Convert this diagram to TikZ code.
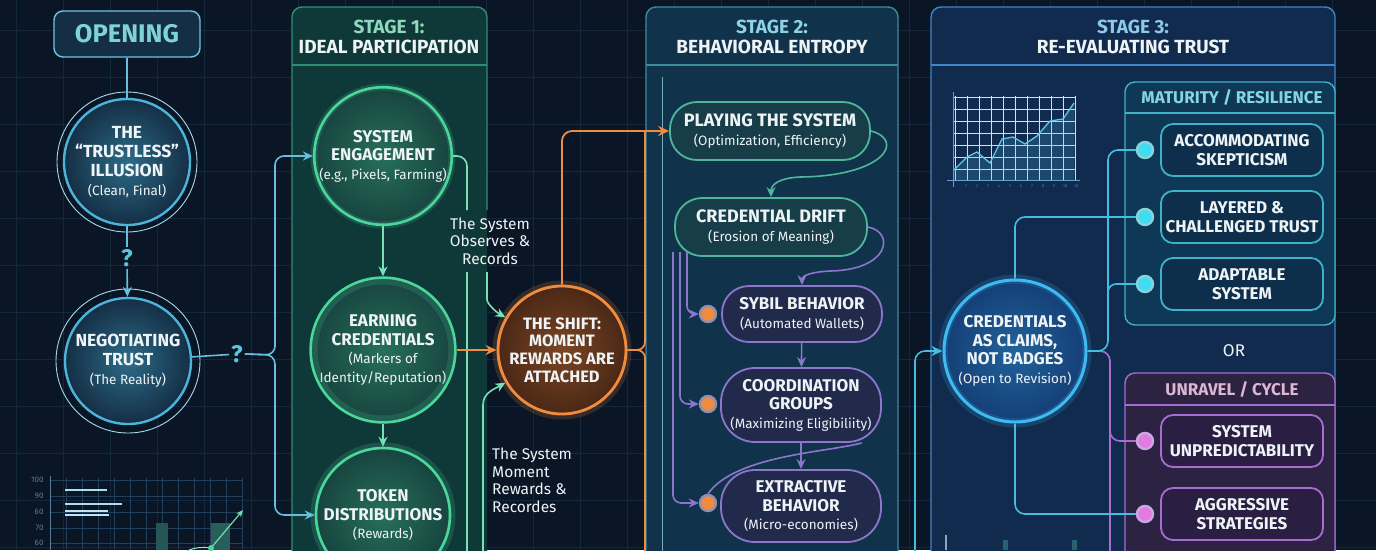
\documentclass[tikz,border=0pt]{standalone}
\usepackage{fontspec}
\setmainfont{Fira Sans}
\usetikzlibrary{arrows.meta}

\definecolor{bgnavy}{HTML}{0A1526}
\definecolor{gridln}{HTML}{14283B}
\definecolor{softwhite}{HTML}{EEF3F6}
\definecolor{tealtxt}{HTML}{7ED3D6}
\definecolor{qcol}{HTML}{5CC3DC}
\definecolor{openblue}{HTML}{4BB4D8}
\definecolor{openfill}{HTML}{142F45}
\definecolor{oneborder}{HTML}{2F8F70}
\definecolor{onefill}{HTML}{0F3938}
\definecolor{onehead}{HTML}{8FD8BC}
\definecolor{greenring}{HTML}{4CD69C}
\definecolor{greenfill}{HTML}{17443F}
\definecolor{shiftor}{HTML}{F08C3E}
\definecolor{shiftfill}{HTML}{4A2816}
\definecolor{twoborder}{HTML}{3A8C9E}
\definecolor{twofill}{HTML}{10324A}
\definecolor{twohead}{HTML}{8DD3E3}
\definecolor{pillteal}{HTML}{4DB79C}
\definecolor{pilltealfill}{HTML}{163D48}
\definecolor{lilac}{HTML}{8C76CC}
\definecolor{lilacfill}{HTML}{222A4C}
\definecolor{ringgrey}{HTML}{8E8FB2}
\definecolor{threeborder}{HTML}{3E86C6}
\definecolor{threefill}{HTML}{112B4F}
\definecolor{threehead}{HTML}{8EC9EA}
\definecolor{cyanln}{HTML}{45BDE0}
\definecolor{matborder}{HTML}{3FB2C8}
\definecolor{matfill}{HTML}{0F3756}
\definecolor{matpill}{HTML}{0E2F4B}
\definecolor{mathead}{HTML}{86D6E2}
\definecolor{dotcyan}{HTML}{40DCEF}
\definecolor{purpborder}{HTML}{A86CD2}
\definecolor{purpfill}{HTML}{2C2343}
\definecolor{purppill}{HTML}{2A1F42}
\definecolor{purphead}{HTML}{DDB6D6}
\definecolor{dotpink}{HTML}{E27AE0}
\definecolor{credring}{HTML}{3DBBF2}
\definecolor{credfill}{HTML}{153E76}
\definecolor{chartln}{HTML}{22405C}
\definecolor{chartlbl}{HTML}{5F7D99}

\newcommand{\subln}[1]{{\mdseries\fontsize{13.5}{16.5}\selectfont #1}}

\tikzset{
  bignode/.style={align=center, text=softwhite, inner sep=0pt,
    font=\bfseries\fontsize{17}{18.5}\selectfont},
  openbox/.style={draw=openblue!80, line width=1.4pt, fill=openfill, rounded corners=9pt,
    minimum width=146pt, minimum height=46pt, text=tealtxt,
    font=\bfseries\fontsize{25.5}{25.5}\selectfont},
  opencirc/.style={bignode, circle, draw=openblue, line width=2.4pt,
    inner color=openfill!55!openblue, outer color=openfill, minimum size=126pt,
    font=\bfseries\fontsize{17.5}{18.8}\selectfont},
  greencirc/.style={bignode, circle, draw=greenring, line width=2.6pt,
    inner color=greenfill!70!greenring, outer color=greenfill, minimum size=134pt},
  shiftcirc/.style={bignode, circle, draw=shiftor, line width=2.8pt,
    inner color=shiftfill!70!shiftor, outer color=shiftfill, minimum size=128pt,
    font=\bfseries\fontsize{16.5}{17.8}\selectfont},
  credcirc/.style={bignode, circle, draw=credring, line width=3pt,
    inner color=credfill!70!credring, outer color=credfill, minimum size=142pt},
  tealpill/.style={bignode, draw=pillteal, line width=1.8pt, fill=pilltealfill,
    rounded corners=27pt, minimum width=200pt, minimum height=58pt,
    font=\bfseries\fontsize{18}{19}\selectfont},
  lilacpill/.style={bignode, draw=lilac, line width=1.8pt, fill=lilacfill,
    rounded corners=27pt, minimum width=160pt, minimum height=56pt},
  cyanpill/.style={bignode, draw=matborder, line width=1.8pt, fill=matpill,
    rounded corners=12pt, minimum width=162pt, minimum height=52pt},
  pinkpill/.style={cyanpill, draw=purpborder, fill=purppill},
  ringdot/.style={circle, inner sep=0pt, minimum size=16pt, line width=2.4pt},
  orangedot/.style={ringdot, draw=ringgrey, fill=shiftor},
  cyandot/.style={ringdot, draw=matborder!60!white, fill=dotcyan},
  pinkdot/.style={ringdot, draw=purpborder!60!white, fill=dotpink},
  note/.style={text=softwhite, inner sep=1pt, font=\fontsize{15.5}{17.5}\selectfont},
  stagenum/.style={font=\bfseries\fontsize{19}{21}\selectfont},
  stagename/.style={text=softwhite, font=\bfseries\fontsize{19}{21}\selectfont},
  subhead/.style={font=\bfseries\fontsize{17}{19}\selectfont},
  qmark/.style={text=qcol, inner sep=2pt, font=\bfseries\fontsize{24}{24}\selectfont},
  openline/.style={draw=openblue!85, line width=1.6pt},
  openarrow/.style={openline, -{Stealth[length=10pt,width=9pt]}},
  greenline/.style={draw=greenring!75, line width=1.6pt},
  greenarrow/.style={greenline, -{Stealth[length=10pt,width=9pt]}},
  orangeline/.style={draw=shiftor, line width=1.8pt},
  orangearrow/.style={orangeline, -{Stealth[length=11pt,width=10pt]}},
  tealarrow/.style={draw=pillteal, line width=1.6pt, -{Stealth[length=10pt,width=9pt]}},
  lilacline/.style={draw=lilac, line width=1.6pt},
  lilacarrow/.style={lilacline, -{Stealth[length=10pt,width=9pt]}},
  cyanline/.style={draw=cyanln, line width=1.6pt},
  bluearrow/.style={cyanline, -{Stealth[length=11pt,width=10pt]}},
  pinkline/.style={draw=purpborder, line width=1.6pt},
  glow/.style={line width=7pt, opacity=0.18}
}

\begin{document}
\begin{tikzpicture}[x=1pt, y=-1pt]
    % Background grid
    \fill[bgnavy] (0,0) rectangle (1376,550);
    \clip (0,0) rectangle (1376,550);
    \foreach \gx in {16,63,...,1376} \draw[gridln, line width=0.8pt] (\gx,0) -- (\gx,550);
    \foreach \gy in {30,77,...,550} \draw[gridln, line width=0.8pt] (0,\gy) -- (1376,\gy);

    % Faint chart, lower left
    \foreach \gy/\lbl in {480/100, 496/90, 512/60, 528/70, 543/60} {
        \draw[chartln, line width=0.6pt] (50,\gy) -- (242,\gy);
        \node[text=chartlbl, anchor=east, font=\fontsize{8}{9}\selectfont] at (47,\gy) {\lbl};
    }
    \foreach \gx in {66,82,...,242} \draw[chartln, line width=0.6pt] (\gx,478) -- (\gx,550);
    \draw[chartlbl, line width=0.8pt] (50,476) -- (50,550);
    \draw[openblue!45, line width=2.5pt] (65,490) -- (107,490);
    \draw[openblue!45, line width=2.5pt] (65,504) -- (122,504);
    \draw[openblue!35, line width=1.5pt] (65,511) -- (108,511);
    \draw[openblue!35, line width=1.5pt] (65,515) -- (109,515);
    \fill[pillteal!40!bgnavy] (156,523) rectangle (168,550);
    \fill[pillteal!45!bgnavy] (211,523) rectangle (230,550);
    \draw[greenring!60, line width=1pt] (187,551) .. controls (195,547) and (204,547) .. (211,548);
    \draw[greenring!80, line width=1.2pt, -{Stealth[length=7pt,width=6pt]}] (211,548) -- (243,510);
    \fill[greenring] (211,548) circle (3pt);

    % Stage panels
    \fill[onefill, rounded corners=10pt] (292,7) rectangle (487,570);
    \draw[oneborder, line width=1.4pt, rounded corners=10pt] (487,210) -- (487,7) -- (292,7) -- (292,570);
    \draw[oneborder, line width=1.4pt] (292,65) -- (487,65);
    \filldraw[fill=twofill, draw=twoborder, line width=1.4pt, rounded corners=10pt] (646,7) rectangle (898,570);
    \draw[twoborder, line width=1.4pt] (646,65) -- (898,65);
    \draw[twoborder!70, line width=0.8pt] (662,77) -- (662,570);
    \filldraw[fill=threefill, draw=threeborder, line width=1.4pt, rounded corners=10pt] (931,7) rectangle (1335,570);
    \draw[threeborder, line width=1.4pt] (931,65) -- (1335,65);
    \filldraw[fill=matfill, draw=matborder, line width=1.4pt, rounded corners=10pt] (1125,82) rectangle (1335,325);
    \draw[matborder, line width=1.4pt] (1125,113) -- (1335,113);
    \filldraw[fill=purpfill, draw=purpborder, line width=1.4pt, rounded corners=10pt] (1125,373) rectangle (1335,570);
    \draw[purpborder, line width=1.4pt] (1125,405) -- (1335,405);

    % Stage headers
    \node[stagenum, text=onehead] (onenum) at (389,27) {STAGE 1:};
    \node[stagename] (onename) at (389,47) {IDEAL PARTICIPATION};
    \node[stagenum, text=twohead] (twonum) at (772,27) {STAGE 2:};
    \node[stagename] (twoname) at (772,47) {BEHAVIORAL ENTROPY};
    \node[stagenum, text=threehead] (threenum) at (1133,27) {STAGE 3:};
    \node[stagename] (threename) at (1133,47) {RE-EVALUATING TRUST};
    \node[subhead, text=mathead] (mathead) at (1232,98) {MATURITY / RESILIENCE};
    \node[subhead, text=purphead] (unravhead) at (1232,390) {UNRAVEL / CYCLE};

    % Trend chart in stage 3
    \foreach \cx in {955,967,...,1075} \draw[threeborder!25, line width=0.5pt] (\cx,96) -- (\cx,180);
    \foreach \cy in {97,109,...,180} \draw[threeborder!25, line width=0.5pt] (953,\cy) -- (1076,\cy);
    \fill[cyanln, opacity=0.2] (954,170) -- (967,157) -- (977,152) -- (990,163) -- (1002,139) -- (1013,137)
        -- (1025,144) -- (1037,136) -- (1050,121) -- (1063,119) -- (1074,103) -- (1074,180) -- (954,180) -- cycle;
    \draw[cyanln!85, line width=1.3pt] (954,170) -- (967,157) -- (977,152) -- (990,163) -- (1002,139) -- (1013,137)
        -- (1025,144) -- (1037,136) -- (1050,121) -- (1063,119) -- (1074,103);
    \draw[threeborder!80, line width=0.8pt] (953,92) -- (953,187);
    \draw[threeborder!80, line width=0.8pt] (947,180) -- (1080,180);
    \foreach \n [count=\i] in {1,2,3,4,5,6,7,8,9,10,10}
        \node[text=chartlbl, font=\fontsize{4}{5}\selectfont] at (955+11*\i,186) {\n};
    \fill[chartlbl!70] (945,535) rectangle (946.5,550);
    \fill[pillteal!40!threefill] (1003,540) rectangle (1008,550);
    \fill[pillteal!40!threefill] (1072,540) rectangle (1077,550);

    % Opening column
    \node[openbox] (opening) at (127,34) {OPENING};
    \node[opencirc] (illusion) at (127,162) {THE\\“TRUSTLESS”\\ILLUSION\\\subln{(Clean, Final)}};
    \node[qmark] (qtop) at (127,258) {?};
    \node[opencirc] (negotiating) at (128,361) {NEGOTIATING\\TRUST\\\subln{(The Reality)}};
    \node[qmark] (qside) at (237,354) {?};
    \draw[openblue!50, line width=0.9pt] (illusion.center) circle (70pt);
    \draw[openblue!50, line width=0.9pt] (negotiating.center) circle (72pt);

    % Stage 1 nodes
    \node[greencirc] (engagement) at (383,156) {SYSTEM\\ENGAGEMENT\\\subln{(e.g., Pixels, Farming)}};
    \node[greencirc] (earning) at (383,350) {EARNING\\CREDENTIALS\\\subln{(Markers of}\\\subln{Identity/Reputation)}};
    \node[greencirc] (tokens) at (383,515) {TOKEN\\DISTRIBUTIONS\\\subln{(Rewards)}};
    \foreach \n in {engagement, earning, tokens} \draw[greenring, glow] (\n.center) circle (69pt);

    % The shift
    \node[shiftcirc] (shift) at (562,350) {THE SHIFT:\\MOMENT\\REWARDS ARE\\ATTACHED};
    \draw[shiftor, glow] (shift.center) circle (66pt);
    \node[note, align=center] (observes) at (490,241) {The System\\Observes \&\\Records};
    \node[note, align=left, anchor=north west] (recordes) at (491,447) {The System\\Moment\\Rewards \&\\Recordes};

    % Stage 2 nodes
    \node[tealpill] (playing) at (770,131) {PLAYING THE SYSTEM\\\subln{(Optimization, Efficiency)}};
    \node[tealpill, minimum width=192pt] (drift) at (771,227) {CREDENTIAL DRIFT\\\subln{(Erosion of Meaning)}};
    \node[lilacpill] (sybil) at (802,314) {SYBIL BEHAVIOR\\\subln{(Automated Wallets)}};
    \node[lilacpill, minimum height=74pt, rounded corners=34pt] (coord) at (801,405) {COORDINATION\\GROUPS\\\subln{(Maximizing Eligibiliity)}};
    \node[lilacpill, minimum height=72pt, rounded corners=34pt] (extractive) at (801,506) {EXTRACTIVE\\BEHAVIOR\\\subln{(Micro-economies)}};
    \node[orangedot] (sybildot) at (708,314) {};
    \node[orangedot] (coorddot) at (708,404) {};
    \node[orangedot] (extractdot) at (708,503) {};

    % Stage 3 nodes
    \node[credcirc] (claims) at (1015,351) {CREDENTIALS\\AS CLAIMS,\\NOT BADGES\\\subln{(Open to Revision)}};
    \draw[credring, glow, line width=9pt] (claims.center) circle (72pt);
    \node[cyanpill] (skeptic) at (1242,150) {ACCOMMODATING\\SKEPTICISM};
    \node[cyanpill] (layered) at (1242,217) {LAYERED \&\\CHALLENGED TRUST};
    \node[cyanpill] (adaptable) at (1242,284) {ADAPTABLE\\SYSTEM};
    \node[cyandot] (skepdot) at (1145,150) {};
    \node[cyandot] (layerdot) at (1145,217) {};
    \node[cyandot] (adaptdot) at (1145,284) {};
    \node[text=softwhite!80, font=\fontsize{17}{18}\selectfont] (ornode) at (1234,351) {OR};
    \node[pinkpill] (unpredict) at (1242,441) {SYSTEM\\UNPREDICTABILITY};
    \node[pinkpill] (aggressive) at (1242,514) {AGGRESSIVE\\STRATEGIES};
    \node[pinkdot] (unpredot) at (1145,441) {};
    \node[pinkdot] (aggrdot) at (1145,514) {};

    % Free ends of connectors
    \coordinate (obsleft) at (467,272);
    \coordinate (obsfoot) at (487,272);
    \coordinate (recfoot) at (483,572);
    \coordinate (sybtap) at (687,252);
    \coordinate (cortap) at (680,252);
    \coordinate (exttap) at (673,252);
    \coordinate (claimfoot) at (915,572);
    \coordinate (adtap) at (1108,305);
    \coordinate (untap) at (1110,415);

    % Opening flow
    \draw[openline] (opening) -- (illusion);
    \draw[openline] (illusion) -- (qtop);
    \draw[openarrow] (qtop) -- (negotiating);
    \draw[openline] (negotiating) -- (qside);
    \draw[openarrow, rounded corners=9pt] (qside.east) -- (275,355) |- (engagement.west);
    \draw[openarrow, rounded corners=9pt] (qside.east) -- (275,355) |- (tokens.west);

    % Stage 1 flow
    \draw[greenarrow] (engagement) -- (earning);
    \draw[greenarrow] (earning) -- (tokens);
    \draw[greenline, rounded corners=10pt] (engagement.east) -| (467,210);
    \draw[greenline] (obsleft) -- (467,572);
    \draw[greenarrow, rounded corners=10pt] (obsfoot) -- (487,290) to[out=-90, in=150] (shift.150);
    \draw[greenarrow] (recfoot) -- (483,405) to[out=90, in=210] (shift.210);
    \draw[orangearrow] (earning) -- (shift);

    % Shift into stage 2
    \draw[orangearrow, rounded corners=10pt] (shift.north) |- (playing.west);
    \draw[orangeline, rounded corners=8pt] (shift.east) -- (645,350) -- (645,131);
    \draw[orangeline, rounded corners=8pt] (shift.east) -- (645,350) -- (645,572);

    % Stage 2 flow
    \draw[tealarrow] (playing.east) .. controls (905,140) and (885,176) .. (800,177)
        .. controls (780,178) and (771,184) .. (drift.north);
    \draw[lilacarrow] (drift.east) .. controls (895,232) and (890,270) .. (830,271)
        .. controls (810,272) and (802,276) .. (sybil.north);
    \draw[lilacarrow] (sybil) -- (coord);
    \draw[lilacarrow] (coord) -- (extractive);
    \draw[lilacline] (coord.-32) .. controls (830,452) and (735,455) .. (extractdot.north);
    \draw[lilacarrow, rounded corners=8pt] (sybtap) |- (sybildot.west);
    \draw[lilacarrow, rounded corners=8pt] (cortap) |- (coorddot.west);
    \draw[lilacarrow, rounded corners=8pt] (exttap) |- (extractdot.west);

    % Stage 3 flow
    \draw[bluearrow, rounded corners=10pt] (claimfoot) |- (claims.west);
    \draw[pinkline, rounded corners=10pt] (claims.east) -| (1110,572);
    \draw[pinkline, rounded corners=10pt] (untap) |- (unpredot.west);
    \draw[cyanline, rounded corners=10pt] (claims.east) -| (1108,150) -- (skepdot.west);
    \draw[cyanline, rounded corners=8pt] (adtap) |- (adaptdot.west);
    \draw[cyanline, rounded corners=10pt] (claims.north) |- (layerdot.west);
    \draw[cyanline, rounded corners=10pt] (claims.south) |- (aggrdot.west);
\end{tikzpicture}
\end{document}
